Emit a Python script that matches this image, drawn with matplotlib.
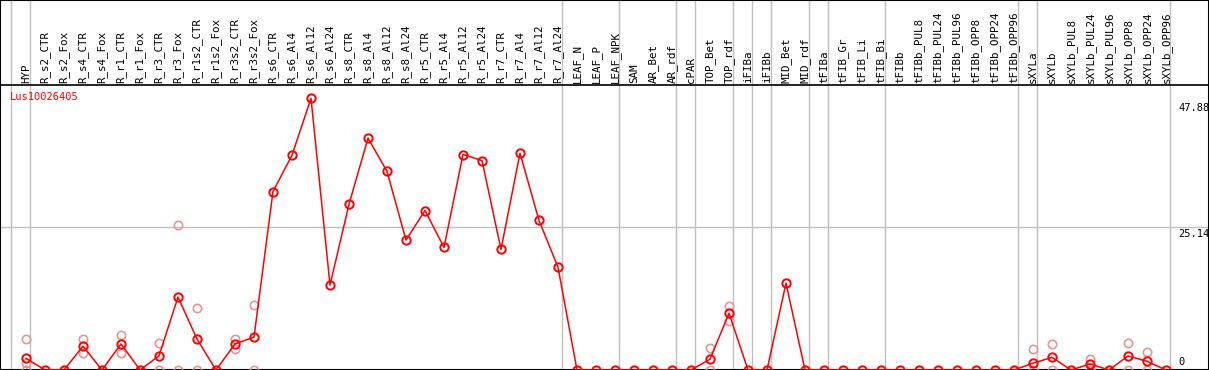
import matplotlib
matplotlib.use("Agg")
import matplotlib.pyplot as plt

gene = "Lus10026405"

labels = ["HYP", "R_s2_CTR", "R_s2_Fox", "R_s4_CTR", "R_s4_Fox", "R_r1_CTR", "R_r1_Fox",
          "R_r3_CTR", "R_r3_Fox", "R_r1s2_CTR", "R_r1s2_Fox", "R_r3s2_CTR", "R_r3s2_Fox",
          "R_s6_CTR", "R_s6_Al4", "R_s6_Al12", "R_s6_Al24", "R_s8_CTR", "R_s8_Al4",
          "R_s8_Al12", "R_s8_Al24", "R_r5_CTR", "R_r5_Al4", "R_r5_Al12", "R_r5_Al24",
          "R_r7_CTR", "R_r7_Al4", "R_r7_Al12", "R_r7_Al24", "LEAF_N", "LEAF_P", "LEAF_NPK",
          "SAM", "AR_Bet", "AR_rdf", "cPAR", "TOP_Bet", "TOP_rdf", "iFIBa", "iFIBb",
          "MID_Bet", "MID_rdf", "tFIBa", "tFIB_Gr", "tFIB_Li", "tFIB_Bi", "tFIBb",
          "tFIBb_PUL8", "tFIBb_PUL24", "tFIBb_PUL96", "tFIBb_OPP8", "tFIBb_OPP24",
          "tFIBb_OPP96", "sXYLa", "sXYLb", "sXYLb_PUL8", "sXYLb_PUL24", "sXYLb_PUL96",
          "sXYLb_OPP8", "sXYLb_OPP24", "sXYLb_OPP96"]

means = [2.05, 0, 0, 4.2, 0, 4.6, 0, 2.5, 12.85, 5.45, 0, 4.6, 5.8,
         31.45, 37.85, 47.88, 14.96, 29.2, 40.85, 35.0, 22.9,
         28.1, 21.6, 37.97, 36.9, 21.25, 38.2, 26.35, 18.1,
         0, 0, 0, 0, 0, 0,
         0, 1.9, 10.0, 0, 0, 15.3, 0,
         0, 0, 0, 0, 0, 0, 0, 0, 0, 0, 0,
         1.2, 2.23, 0, 1.05, 0, 2.47, 1.53, 0]

# single replicates (light circles)
rep_samples = ["HYP", "HYP", "HYP", "R_s4_CTR", "R_s4_CTR", "R_r1_CTR", "R_r1_CTR",
               "R_r3_CTR", "R_r3_CTR", "R_r3_Fox", "R_r3_Fox", "R_r1s2_CTR", "R_r1s2_CTR",
               "R_r3s2_CTR", "R_r3s2_CTR", "R_r3s2_Fox", "R_r3s2_Fox",
               "TOP_Bet", "TOP_Bet", "TOP_rdf", "TOP_rdf",
               "sXYLa", "sXYLa", "sXYLb", "sXYLb", "sXYLb_PUL24", "sXYLb_PUL24",
               "sXYLb_OPP8", "sXYLb_OPP8", "sXYLb_OPP24", "sXYLb_OPP24"]
rep_values = [5.46, 1.17, 0, 5.46, 2.94, 6.17, 2.94,
              4.7, 0, 25.5, 0, 10.87, 0,
              5.46, 3.64, 11.4, 0,
              3.82, 0, 11.28, 8.7,
              3.64, 0, 4.58, 0, 1.94, 0,
              4.7, 0, 3.1, 0]

# group separators come after these samples (-1 = before the first)
sep_after = [-1, 0, 28, 31, 34, 35, 37, 38, 39, 41, 42, 45, 52, 53, 60]

tick_vals = [47.88, 25.14, 0]

W, H = 1209, 370
X0, DX = 26, 19          # pixel of first sample, pixels per sample
PXU = 5.675              # pixels per expression unit


def ypx(p):
    # pixel row from the top -> data y
    return (H - p) / PXU


fig = plt.figure(figsize=(W / 100, H / 100), dpi=100)
ax = fig.add_axes([0, 0, 1, 1])
ax.set_xlim(-X0 / DX, (W - X0) / DX)
ax.set_ylim(0, H / PXU)
ax.set_xticks([])
ax.set_yticks([])
for s in ax.spines.values():
    s.set_color("black")
    s.set_linewidth(1.5)

xs = list(range(len(labels)))

for k in sep_after:
    ax.axvline(k + 4 / DX, color="#c0c0c0", lw=1, zorder=1)
ax.axhline(tick_vals[1], color="#c0c0c0", lw=1, zorder=1)
ax.axhline(ypx(85), color="black", lw=1.2, zorder=2)

rx = [labels.index(s) for s in rep_samples]
ax.plot(rx, rep_values, "o", ms=6, mfc="none", mec="#e69696", mew=1.2, zorder=3)
ax.plot(xs, means, "-o", color="red", lw=1.1, ms=6, mfc="none", mec="red", mew=1.4, zorder=4)

for i, lab in enumerate(labels):
    ax.text(i, ypx(83), lab, rotation=90, ha="center", va="bottom",
            fontsize=7.8, family="DejaVu Sans Mono", color="black")

ax.text((10 - X0) / DX, ypx(97), gene, color="red", fontsize=7.5,
        family="DejaVu Sans Mono", ha="left", va="center")

tx = (1178 - X0) / DX
ax.text(tx, ypx(103), f"{tick_vals[0]:.2f}", fontsize=7.5, family="DejaVu Sans Mono",
        ha="left", va="top")
ax.text(tx, ypx(229), f"{tick_vals[1]:.2f}", fontsize=7.5, family="DejaVu Sans Mono",
        ha="left", va="top")
ax.text(tx, ypx(367), "0", fontsize=7.5, family="DejaVu Sans Mono",
        ha="left", va="bottom")

fig.savefig("out.png", dpi=100)
